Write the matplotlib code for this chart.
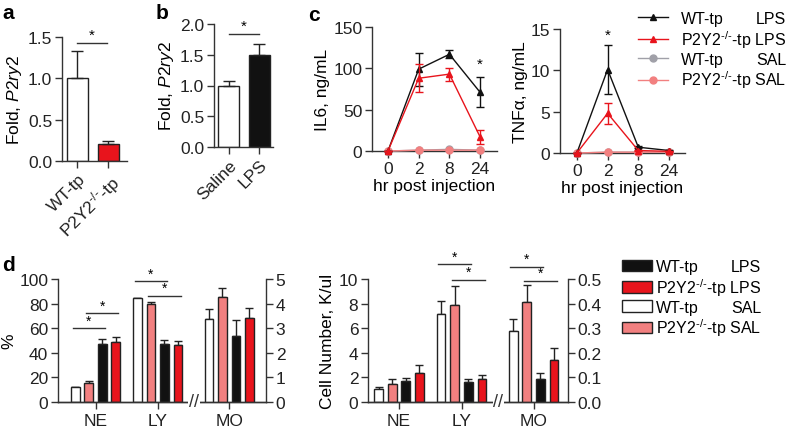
import numpy as np
import matplotlib
matplotlib.use("Agg")
import matplotlib.pyplot as plt
from matplotlib.lines import Line2D
from matplotlib.patches import Patch

plt.rcParams['font.family'] = ['Liberation Sans', 'DejaVu Sans']
plt.rcParams['mathtext.fontset'] = 'custom'
plt.rcParams['mathtext.rm'] = 'Liberation Sans'
plt.rcParams['mathtext.it'] = 'Liberation Sans:italic'
plt.rcParams['mathtext.default'] = 'regular'
plt.rcParams['axes.linewidth'] = 1.0
plt.rcParams['axes.edgecolor'] = '#333333'
plt.rcParams['xtick.color'] = '#333333'
plt.rcParams['ytick.color'] = '#333333'
plt.rcParams['xtick.labelcolor'] = '#222222'
plt.rcParams['ytick.labelcolor'] = '#222222'

RED = '#e8141c'
PINK = '#f28080'
GRAY = '#a0a0a8'
BLACK = '#111111'
TICK_FS = 12.5
LAB_FS = 12.5
LEG_FS = 11.5
KO = 'P2Y2$^{\u2010/\u2010}$-tp'

# panel a
a_labels = ['WT-tp', KO]
a_vals = [1.0, 0.20]
a_err = [0.33, 0.04]
a_sig = 1.43

# panel b
b_labels = ['Saline', 'LPS']
b_vals = [1.0, 1.49]
b_err = [0.08, 0.18]
b_sig = 1.84

# panel c
hours = ['0', '2', '8', '24']
il6_wt_lps = [0, 99, 117, 71]
il6_wt_lps_err = [0, 20, 5, 18]
il6_ko_lps = [0, 88, 93, 17]
il6_ko_lps_err = [0, 17, 8, 9]
il6_wt_sal = [0, 1, 2, 1]
il6_ko_sal = [0, 1, 1, 1]
tnf_wt_lps = [0, 10.1, 0.7, 0.3]
tnf_wt_lps_err = [0, 3.0, 0.1, 0.1]
tnf_ko_lps = [0, 4.8, 0.3, 0.2]
tnf_ko_lps_err = [0, 1.3, 0.1, 0.1]
tnf_wt_sal = [0, 0.1, 0.1, 0.1]
tnf_ko_sal = [0, 0.1, 0.1, 0.1]

# panel d  (bar order: WT SAL, P2Y2 SAL, WT LPS, P2Y2 LPS)
cells = ['NE', 'LY', 'MO']
pct_ne = [12.2, 15.4, 47.5, 49.0]
pct_ne_err = [0.4, 2.0, 4.0, 4.2]
pct_ly = [84.3, 79.5, 47.0, 46.0]
pct_ly_err = [0.6, 2.2, 3.2, 3.8]
pct_mo = [3.37, 4.25, 2.67, 3.43]
pct_mo_err = [0.40, 0.37, 0.68, 0.39]
num_ne = [1.05, 1.47, 1.67, 2.33]
num_ne_err = [0.2, 0.37, 0.28, 0.66]
num_ly = [7.15, 7.85, 1.62, 1.88]
num_ly_err = [1.1, 1.6, 0.23, 0.33]
num_mo = [0.289, 0.408, 0.095, 0.170]
num_mo_err = [0.05, 0.067, 0.021, 0.05]
# significance lines: (group, first bar, last bar, level)
pct_sig = [(0, 0, 2, 60), (0, 1, 3, 72), (1, 0, 2, 98), (1, 1, 3, 86.5)]
num_sig_left = [(1, 0, 2, 11.2), (1, 1, 3, 9.95)]
num_sig_right = [(2, 0, 2, 0.55), (2, 1, 3, 0.493)]

d_colors = ['white', PINK, BLACK, RED]
group_pos = [0, 4.6, 9.9]
offsets = [-1.5, -0.5, 0.5, 1.5]

fig = plt.figure(figsize=(7.87, 4.31), dpi=100)
W, H = 787.0, 431.0


def add_ax(x0, y0, x1, y1):
    return fig.add_axes([x0 / W, 1 - y1 / H, (x1 - x0) / W, (y1 - y0) / H])


def style(ax, right=False):
    ax.spines['top'].set_visible(False)
    if not right:
        ax.spines['right'].set_visible(False)
    ax.tick_params(direction='out', length=5, width=1, labelsize=TICK_FS, pad=2)


def sig(ax, x0, x1, y, fs=11):
    ax.plot([x0, x1], [y, y], color='#333333', lw=1, clip_on=False)
    ax.annotate('*', ((x0 + x1) / 2, y), xytext=(0, 0.5), textcoords='offset points',
                ha='center', va='bottom', fontsize=fs, annotation_clip=False)


# ---- a
ax = add_ax(62, 38, 127, 162)
style(ax)
ax.bar([0, 1], a_vals, width=0.68, color=['white', RED], edgecolor='#222222', lw=1)
ax.errorbar([0, 1], a_vals, yerr=[[0, 0], a_err], fmt='none', ecolor='#222222', elinewidth=1, capsize=4)
ax.set_xlim(-0.5, 1.6)
ax.set_ylim(0, 1.5)
ax.set_yticks([0, 0.5, 1.0, 1.5])
ax.set_yticklabels(['0.0', '0.5', '1.0', '1.5'])
ax.set_xticks([0, 1])
ax.set_xticklabels(a_labels, rotation=45, ha='right', rotation_mode='anchor', fontsize=LAB_FS)
ax.set_ylabel('Fold, $\\mathit{P2ry2}$', fontsize=LAB_FS, labelpad=3)
sig(ax, 0, 0.95, a_sig)

# ---- b
ax = add_ax(214, 25, 273, 148)
style(ax)
ax.bar([0, 1], b_vals, width=0.69, color=['white', BLACK], edgecolor='#222222', lw=1)
ax.errorbar([0, 1], b_vals, yerr=[[0, 0], b_err], fmt='none', ecolor='#222222', elinewidth=1, capsize=4)
ax.set_xlim(-0.48, 1.46)
ax.set_ylim(0, 2.0)
ax.set_yticks([0, 0.5, 1.0, 1.5, 2.0])
ax.set_yticklabels(['0.0', '0.5', '1.0', '1.5', '2.0'])
ax.set_xticks([0, 1])
ax.set_xticklabels(b_labels, rotation=45, ha='right', rotation_mode='anchor', fontsize=LAB_FS)
ax.set_ylabel('Fold, $\\mathit{P2ry2}$', fontsize=LAB_FS, labelpad=3)
sig(ax, 0, 1, b_sig)


# ---- c
def line_panel(ax, wt_lps, wt_err, ko_lps, ko_err, wt_sal, ko_sal):
    x = np.arange(len(hours))
    ax.plot(x, wt_sal, color=GRAY, marker='o', ms=5, lw=1, clip_on=False, zorder=3)
    ax.plot(x, ko_sal, color=PINK, marker='o', ms=5, lw=1, clip_on=False, zorder=3)
    ax.errorbar(x, wt_lps, yerr=wt_err, color=BLACK, marker='^', ms=5, lw=1,
                capsize=3, elinewidth=1, clip_on=False, zorder=4)
    ax.errorbar(x, ko_lps, yerr=ko_err, color=RED, marker='^', ms=5, lw=1,
                capsize=3, elinewidth=1, clip_on=False, zorder=5)
    ax.set_xticks(x)
    ax.set_xticklabels(hours)
    ax.set_xlabel('hr post injection', fontsize=LAB_FS, labelpad=2)


ax = add_ax(372, 28, 497, 152)
style(ax)
line_panel(ax, il6_wt_lps, il6_wt_lps_err, il6_ko_lps, il6_ko_lps_err, il6_wt_sal, il6_ko_sal)
ax.set_xlim(-0.52, 3.55)
ax.set_ylim(0, 150)
ax.set_yticks([0, 50, 100, 150])
ax.set_ylabel('IL6, ng/mL', fontsize=LAB_FS, labelpad=2)
ax.text(3, 97, '*', ha='center', va='bottom', fontsize=11)

ax = add_ax(560, 30, 685, 154)
style(ax)
line_panel(ax, tnf_wt_lps, tnf_wt_lps_err, tnf_ko_lps, tnf_ko_lps_err, tnf_wt_sal, tnf_ko_sal)
ax.set_xlim(-0.55, 3.52)
ax.set_ylim(0, 15)
ax.set_yticks([0, 5, 10, 15])
ax.set_ylabel('TNF\u03b1, ng/mL', fontsize=LAB_FS, labelpad=2)
ax.text(1, 13.5, '*', ha='center', va='bottom', fontsize=11)

c_handles = [Line2D([], [], color=BLACK, marker='^', ms=5, lw=1),
             Line2D([], [], color=RED, marker='^', ms=5, lw=1),
             Line2D([], [], color=GRAY, marker='o', ms=5, lw=1),
             Line2D([], [], color=PINK, marker='o', ms=5, lw=1)]
c_labels = ['WT-tp', KO + ' LPS', 'WT-tp', KO + ' SAL']
leg_c = fig.legend(c_handles, c_labels, loc='upper left', bbox_to_anchor=(638 / W, 1 - 12 / H),
                   frameon=False, fontsize=LEG_FS, handlelength=1.9, handletextpad=0.8,
                   labelspacing=0.12, borderpad=0, borderaxespad=0)


# ---- d
def bar_groups(ax, groups, vals_list, err_list):
    for g, vals, errs in zip(groups, vals_list, err_list):
        xs = [group_pos[g] + o for o in offsets]
        ax.bar(xs, vals, width=0.64, color=d_colors, edgecolor='#222222', lw=1, zorder=2)
        ax.errorbar(xs, vals, yerr=[[0] * 4, errs], fmt='none', ecolor='#222222',
                    elinewidth=1, capsize=3, zorder=1)


def sig_lines(ax, sigs):
    for g, i0, i1, lev in sigs:
        x0 = group_pos[g] + offsets[i0] - 0.2
        x1 = group_pos[g] + offsets[i1] + 0.2
        sig(ax, x0, x1, lev, fs=10)


def axis_break(ax):
    ax.text(7.3, 0, '//', transform=ax.get_xaxis_transform(), ha='center', va='center',
            fontsize=13, color='#333333', bbox=dict(facecolor='white', edgecolor='none', pad=0.5),
            zorder=10, clip_on=False)


def right_axis(ax):
    ax2 = ax.twinx()
    ax2.spines['top'].set_visible(False)
    ax2.spines['left'].set_visible(False)
    ax2.tick_params(direction='out', length=5, width=1, labelsize=TICK_FS, pad=2)
    return ax2


ax = add_ax(58, 280, 266, 403)
style(ax)
ax2 = right_axis(ax)
bar_groups(ax, [0, 1], [pct_ne, pct_ly], [pct_ne_err, pct_ly_err])
bar_groups(ax2, [2], [pct_mo], [pct_mo_err])
ax.set_xlim(-2.78, 12.63)
ax.set_ylim(0, 100)
ax.set_yticks([0, 20, 40, 60, 80, 100])
ax2.set_ylim(0, 5)
ax2.set_yticks([0, 1, 2, 3, 4, 5])
ax.set_xticks(group_pos)
ax.set_xticklabels(cells, fontsize=LAB_FS)
ax.tick_params(axis='x', pad=3)
ax.set_ylabel('%', fontsize=LAB_FS, labelpad=2)
sig_lines(ax, pct_sig)
axis_break(ax2)

ax = add_ax(368, 280, 568, 403)
style(ax)
ax2 = right_axis(ax)
bar_groups(ax, [0, 1], [num_ne, num_ly], [num_ne_err, num_ly_err])
bar_groups(ax2, [2], [num_mo], [num_mo_err])
ax.set_xlim(-2.28, 12.43)
ax.set_ylim(0, 10)
ax.set_yticks([0, 2, 4, 6, 8, 10])
ax2.set_ylim(0, 0.5)
ax2.set_yticks([0, 0.1, 0.2, 0.3, 0.4, 0.5])
ax2.set_yticklabels(['0.0', '0.1', '0.2', '0.3', '0.4', '0.5'])
ax.set_xticks(group_pos)
ax.set_xticklabels(cells, fontsize=LAB_FS)
ax.tick_params(axis='x', pad=3)
ax.set_ylabel('Cell Number, K/ul', fontsize=LAB_FS, labelpad=3)
sig_lines(ax, num_sig_left)
sig_lines(ax2, num_sig_right)
axis_break(ax2)

d_handles = [Patch(facecolor=c, edgecolor='#222222', lw=1) for c in [BLACK, RED, 'white', PINK]]
d_labels = ['WT-tp', KO + ' LPS', 'WT-tp', KO + ' SAL']
leg_d = fig.legend(d_handles, d_labels, loc='upper left', bbox_to_anchor=(622 / W, 1 - 260 / H),
                   frameon=False, fontsize=LEG_FS, handlelength=1.9, handleheight=0.7,
                   handletextpad=0.25, labelspacing=0.12, borderpad=0, borderaxespad=0)

# panel letters
for txt, x, y in [('a', 2, 4), ('b', 156, 4), ('c', 308, 6), ('d', 2, 256)]:
    fig.text(x / W, 1 - y / H, txt, fontsize=15, fontweight='bold', va='top', ha='left')

# second word column of the legends
fig.canvas.draw()
inv = fig.transFigure.inverted()
for leg, words in [(leg_c, ['LPS', 'SAL']), (leg_d, ['LPS', 'SAL'])]:
    texts = leg.get_texts()
    r = max(texts[1].get_window_extent().x1, texts[3].get_window_extent().x1)
    for i, w in zip([0, 2], words):
        bb = texts[i].get_window_extent()
        x, y = inv.transform((r, bb.y0))
        fig.text(x, y, w, ha='right', va='bottom', fontsize=LEG_FS)

fig.savefig('out.png', dpi=100)
